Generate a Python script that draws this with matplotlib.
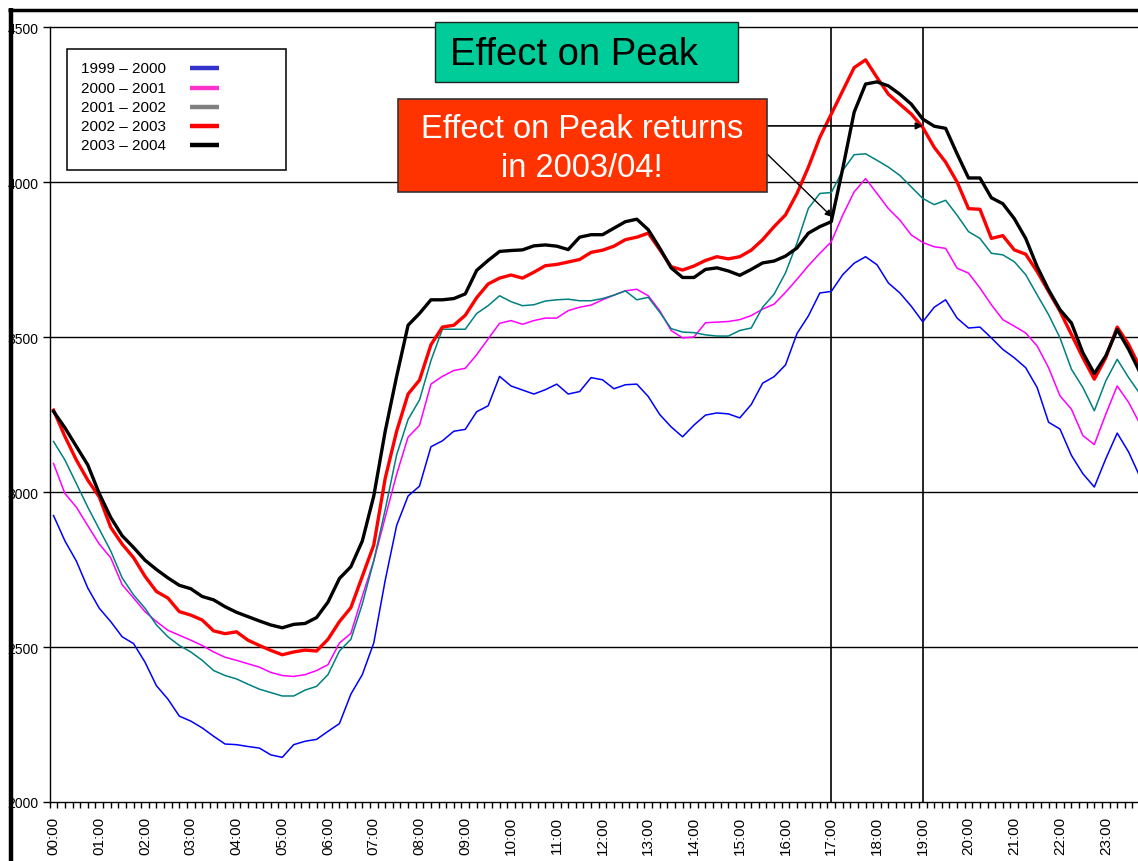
import numpy as np
import matplotlib
matplotlib.use("Agg")
import matplotlib.pyplot as plt
from matplotlib.patches import Rectangle
from matplotlib.lines import Line2D

plt.rcParams['font.family'] = ['Liberation Sans', 'DejaVu Sans']

# ---------------- data ----------------
# 15-minute sampling of the daily profile (hours after midnight)
time_hours = np.arange(0, 24, 0.25)

series_names = ["1999 – 2000", "2000 – 2001", "2001 – 2002", "2002 – 2003", "2003 – 2004"]

y1999 = [2924, 2842, 2777, 2690, 2625, 2582, 2533, 2511, 2451, 2375, 2332, 2277,
         2261, 2239, 2212, 2187, 2185, 2179, 2174, 2152, 2144, 2185, 2196, 2202,
         2228, 2253, 2348, 2411, 2513, 2715, 2892, 2987, 3019, 3146, 3165, 3196,
         3202, 3259, 3278, 3373, 3342, 3329, 3316, 3330, 3348, 3316, 3324, 3369,
         3362, 3333, 3346, 3348, 3308, 3250, 3210, 3178, 3216, 3248, 3255, 3252,
         3239, 3282, 3351, 3372, 3410, 3511, 3568, 3642, 3647, 3701, 3738, 3759,
         3733, 3674, 3642, 3599, 3549, 3596, 3620, 3561, 3529, 3532, 3497, 3460,
         3433, 3401, 3337, 3225, 3203, 3118, 3059, 3016, 3107, 3190, 3129, 3048]

y2000 = [3092, 2995, 2951, 2891, 2832, 2788, 2701, 2658, 2614, 2582, 2554, 2538,
         2522, 2505, 2484, 2467, 2457, 2446, 2435, 2418, 2408, 2405, 2411, 2424,
         2443, 2513, 2544, 2664, 2778, 2918, 3057, 3177, 3215, 3348, 3373, 3392,
         3399, 3443, 3494, 3544, 3553, 3541, 3553, 3561, 3561, 3585, 3596, 3603,
         3620, 3635, 3649, 3654, 3633, 3585, 3521, 3497, 3500, 3546, 3548, 3550,
         3556, 3569, 3590, 3606, 3644, 3686, 3730, 3770, 3807, 3893, 3968, 4011,
         3963, 3914, 3877, 3829, 3805, 3791, 3786, 3722, 3706, 3658, 3604, 3556,
         3535, 3513, 3471, 3401, 3310, 3267, 3182, 3153, 3251, 3342, 3289, 3219]

y2001 = [3163, 3103, 3027, 2951, 2880, 2810, 2723, 2668, 2625, 2571, 2533, 2505,
         2484, 2457, 2424, 2408, 2397, 2380, 2364, 2353, 2342, 2342, 2361, 2373,
         2411, 2487, 2525, 2639, 2778, 2943, 3120, 3234, 3297, 3424, 3525, 3525,
         3525, 3576, 3601, 3633, 3614, 3601, 3604, 3616, 3620, 3622, 3617, 3617,
         3624, 3635, 3649, 3620, 3628, 3580, 3527, 3516, 3514, 3507, 3503, 3503,
         3521, 3529, 3596, 3638, 3707, 3803, 3915, 3963, 3966, 4037, 4088, 4091,
         4070, 4048, 4021, 3984, 3947, 3927, 3941, 3893, 3840, 3818, 3770, 3765,
         3743, 3701, 3636, 3572, 3497, 3396, 3337, 3262, 3358, 3428, 3369, 3316]

y2002 = [3264, 3179, 3103, 3038, 2984, 2886, 2832, 2788, 2728, 2679, 2658, 2614,
         2603, 2587, 2552, 2543, 2549, 2522, 2505, 2489, 2475, 2484, 2490, 2487,
         2525, 2582, 2627, 2728, 2829, 3044, 3196, 3316, 3361, 3475, 3532, 3538,
         3570, 3627, 3671, 3690, 3700, 3690, 3709, 3730, 3734, 3742, 3750, 3773,
         3780, 3793, 3814, 3822, 3835, 3782, 3727, 3716, 3729, 3747, 3759, 3752,
         3759, 3780, 3814, 3856, 3894, 3963, 4048, 4144, 4219, 4294, 4369, 4394,
         4337, 4283, 4251, 4219, 4176, 4112, 4064, 4000, 3914, 3912, 3818, 3827,
         3781, 3767, 3711, 3647, 3583, 3508, 3433, 3364, 3433, 3532, 3476, 3401]

y2003 = [3260, 3207, 3147, 3087, 2995, 2918, 2859, 2821, 2780, 2750, 2723, 2699,
         2688, 2663, 2652, 2630, 2612, 2598, 2584, 2571, 2562, 2573, 2576, 2595,
         2645, 2721, 2759, 2842, 2987, 3196, 3373, 3538, 3576, 3620, 3620, 3624,
         3639, 3715, 3747, 3776, 3779, 3781, 3794, 3797, 3793, 3782, 3822, 3830,
         3830, 3851, 3872, 3880, 3846, 3787, 3723, 3692, 3692, 3718, 3723, 3713,
         3699, 3718, 3739, 3745, 3761, 3787, 3835, 3856, 3872, 4043, 4225, 4316,
         4323, 4310, 4283, 4251, 4203, 4180, 4173, 4091, 4013, 4013, 3949, 3930,
         3882, 3818, 3727, 3652, 3588, 3545, 3449, 3382, 3439, 3524, 3460, 3385]

series_values = [y1999, y2000, y2001, y2002, y2003]
line_colors = ["#0000FF", "#FF00FF", "#008080", "#FF0000", "#000000"]
legend_colors = ["#3333CC", "#FF33CC", "#808080", "#FF0000", "#000000"]
line_widths = [1.1, 1.1, 1.1, 2.4, 2.4]

hour_ticks = list(range(24))
hour_labels = [f"{h:02d}:00" for h in hour_ticks]
y_ticks = [2000, 2500, 3000, 3500, 4000, 4500]
peak_window = [17, 19]

# ---------------- figure ----------------
W, H = 1138, 862
fig = plt.figure(figsize=(W / 100, H / 100), dpi=100)
fig.patch.set_facecolor("white")


def fx(px):
    return px / W


def fy(py):
    return 1 - py / H


ax_left, ax_right, ax_top, ax_bot = 49.7, 1147.7, 28, 803
ax = fig.add_axes([fx(ax_left), fy(ax_bot), (ax_right - ax_left) / W, (ax_bot - ax_top) / H])
ax.set_xlim(-1 / 12, 24 - 1 / 12)
ax.set_ylim(2000, 4500)

for yv in y_ticks[1:]:
    ax.axhline(yv, color="black", lw=1.0, zorder=1, clip_on=False)
for xv in peak_window:
    ax.axvline(xv, color="black", lw=1.2, zorder=1)

for vals, c, lw in zip(series_values, line_colors, line_widths):
    ax.plot(time_hours, vals, color=c, lw=lw, zorder=3, solid_joinstyle="round")

for s in ["top", "right"]:
    ax.spines[s].set_visible(False)
ax.spines["left"].set_linewidth(1.0)
ax.spines["bottom"].set_linewidth(1.0)

ax.set_yticks(y_ticks)
ax.set_yticklabels([str(v) for v in y_ticks])
ax.tick_params(axis="y", length=5, width=1.0, pad=3, labelsize=10, colors="black")

ax.set_xticks(hour_ticks)
ax.set_xticklabels(hour_labels, rotation=90, va="top", ha="center")
ax.set_xticks(np.arange(-1 / 12, 24, 1 / 6), minor=True)
ax.tick_params(axis="x", which="major", length=0, pad=10, labelsize=11)
ax.tick_params(axis="x", which="minor", length=4, width=1.0)

# arrows from the red annotation box
ax.annotate("", xy=(19.0, 4181), xytext=(15.6, 4181),
            arrowprops=dict(arrowstyle="-|>", color="black", lw=1.2,
                            mutation_scale=10, shrinkA=0, shrinkB=0), zorder=6)
ax.annotate("", xy=(17.02, 3887), xytext=(15.6, 4090),
            arrowprops=dict(arrowstyle="-|>", color="black", lw=1.0,
                            mutation_scale=10, shrinkA=0, shrinkB=0), zorder=6)


def rect_px(x0, y0, x1, y1, **kw):
    r = Rectangle((fx(x0), fy(y1)), (x1 - x0) / W, (y1 - y0) / H,
                  transform=fig.transFigure, **kw)
    fig.add_artist(r)
    return r


# legend (manual, handles to the right of labels)
rect_px(67, 50, 286, 171, facecolor="white", edgecolor="black", lw=1.1, zorder=5)
legend_rows = [69, 89, 108, 127, 146]
for name, c, ry in zip(series_names, legend_colors, legend_rows):
    fig.text(fx(81), fy(ry), name, fontsize=11, va="center", ha="left", zorder=6)
    fig.add_artist(Line2D([fx(190), fx(219)], [fy(ry), fy(ry)], color=c, lw=3.2,
                          transform=fig.transFigure, zorder=6, solid_capstyle="butt"))

# title boxes
rect_px(435, 23, 738, 83, facecolor="#00CC99", edgecolor="#222222", lw=1.0, zorder=5)
fig.text(fx(450), fy(65), "Effect on Peak", fontsize=27.5, color="black",
         ha="left", va="baseline", zorder=6)

rect_px(398, 100, 767, 193, facecolor="#FF3300", edgecolor="#333333", lw=1.2, zorder=5)
fig.text(fx(582), fy(138), "Effect on Peak returns", fontsize=23.5, color="white",
         ha="center", va="baseline", zorder=6)
fig.text(fx(582), fy(177), "in 2003/04!", fontsize=23.5, color="white",
         ha="center", va="baseline", zorder=6)

# cropped frame border (thick black at top and left)
rect_px(0, 0, 8.3, H, facecolor="white", edgecolor="none", zorder=8)
rect_px(0, 0, W, 9, facecolor="white", edgecolor="none", zorder=8)
fig.add_artist(Line2D([fx(10.5), fx(10.5)], [fy(9), fy(H)], color="black", lw=3.2,
                      transform=fig.transFigure, zorder=9, solid_capstyle="butt"))
fig.add_artist(Line2D([fx(8.3), fx(W)], [fy(11), fy(11)], color="black", lw=2.5,
                      transform=fig.transFigure, zorder=9, solid_capstyle="butt"))

fig.savefig("out.png", dpi=100)
